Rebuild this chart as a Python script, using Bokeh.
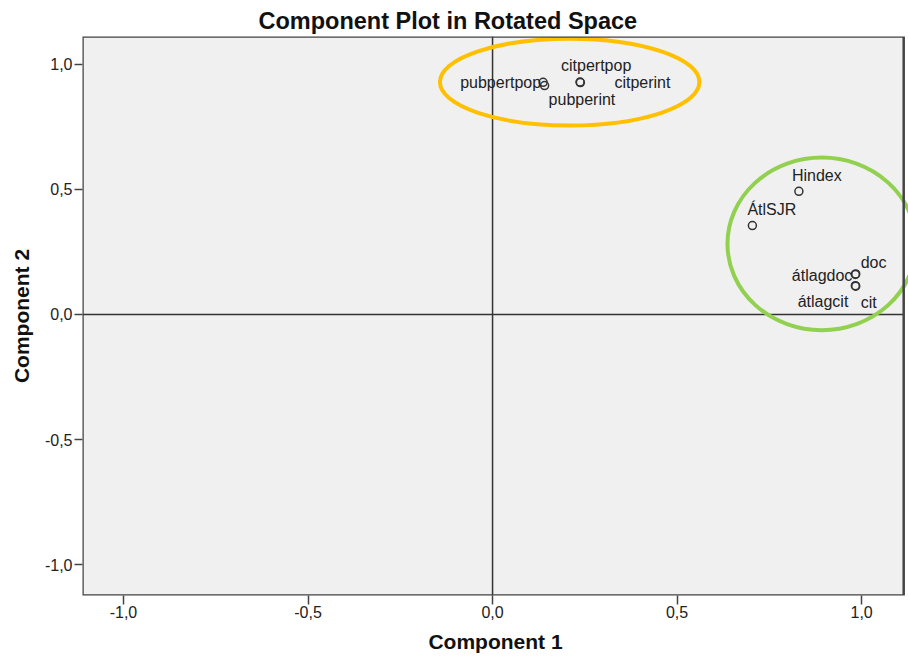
from bokeh.plotting import figure
from bokeh.models import Span, CustomJSTickFormatter, FixedTicker, ColumnDataSource, Range1d, BoxAnnotation
from bokeh.core.properties import value
from bokeh.embed import file_html
from bokeh.resources import INLINE

# ---- data (component loadings) ----
labels = ["pubpertpop", "pubperint", "citpertpop", "citperint", "Hindex",
          "ÁtlSJR", "doc", "átlagdoc", "cit", "átlagcit"]
component1 = [0.137, 0.141, 0.237, 0.238, 0.830, 0.704, 0.984, 0.983, 0.984, 0.983]
component2 = [0.927, 0.914, 0.928, 0.926, 0.492, 0.355, 0.162, 0.160, 0.113, 0.115]

tick_values = [-1.0, -0.5, 0.0, 0.5, 1.0]

# highlight ellipses (centre, width, height in component units)
hl_x = [0.209, 0.892]
hl_y = [0.928, 0.282]
hl_w = [0.703, 0.511]
hl_h = [0.347, 0.689]
hl_color = ["#FFC000", "#92D050"]

# ---- label placement style: (align, dx px, dy px; dy positive = down) ----
label_style = {
    "pubpertpop": ("right", -2, 0),
    "pubperint": ("left", 4, 14),
    "citpertpop": ("left", -19, -17),
    "citperint": ("left", 34, 0),
    "Hindex": ("left", -7, -16),
    "ÁtlSJR": ("left", -5, -16),
    "doc": ("left", 5, -11),
    "átlagdoc": ("right", -3, 1),
    "cit": ("left", 5, 16),
    "átlagcit": ("right", -7, 16),
}

FONT = "Liberation Sans"
X_START, X_END, X_BORDER = -1.111, 1.127, 1.114
Y_START, Y_END = -1.122, 1.110

p = figure(width=908, height=657, output_backend="svg", toolbar_location=None,
           x_range=Range1d(X_START, X_END), y_range=Range1d(Y_START, Y_END),
           min_border_left=82, min_border_right=0, min_border_top=36, min_border_bottom=62,
           title="Component Plot in Rotated Space")

p.background_fill_color = "#F0F0F0"
p.border_fill_color = "white"
p.outline_line_color = None
p.grid.visible = False

p.title.text_font = FONT
p.title.text_font_size = "23.5px"
p.title.text_font_style = "bold"
p.title.text_color = "#111111"
p.title.align = "left"
p.title.offset = 176
p.title.standoff = 5

fmt = CustomJSTickFormatter(code="return tick.toFixed(1).replace('.', ',');")
for ax in (p.xaxis[0], p.yaxis[0]):
    ax.ticker = FixedTicker(ticks=tick_values)
    ax.formatter = fmt
    ax.major_label_text_font = FONT
    ax.major_label_text_font_size = "16px"
    ax.major_label_text_color = "#222222"
    ax.axis_label_text_font = FONT
    ax.axis_label_text_font_size = "21px"
    ax.axis_label_text_font_style = "bold"
    ax.axis_label_text_color = "#111111"
    ax.axis_line_color = None
    ax.major_tick_line_color = "#444444"
    ax.major_tick_line_width = 1.5
    ax.major_tick_in = 0
    ax.minor_tick_line_color = None

p.xaxis.axis_label = "Component 1"
p.xaxis.major_tick_out = 9
p.xaxis.major_label_standoff = 1
p.xaxis.axis_label_standoff = 9

p.yaxis.axis_label = "Component 2"
p.yaxis.major_tick_out = 8
p.yaxis.major_label_standoff = 2
p.yaxis.axis_label_standoff = 9

# zero reference lines
p.add_layout(Span(location=0, dimension="height", line_color="#333333", line_width=1.5, level="underlay"))
p.add_layout(Span(location=0, dimension="width", line_color="#333333", line_width=1.5, level="underlay"))

# white area right of the plot border (the frame runs on so the ellipse can overflow it)
p.add_layout(BoxAnnotation(left=X_BORDER, fill_color="white", fill_alpha=1.0,
                           line_color=None, level="underlay"))

# points
src = ColumnDataSource(dict(
    x=component1, y=component2, name=labels,
    align=[label_style[n][0] for n in labels],
    dx=[label_style[n][1] for n in labels],
    dy=[label_style[n][2] for n in labels],
))
p.scatter("x", "y", source=src, marker="circle", size=8, fill_color=None,
          line_color="#333333", line_width=1.5)
p.text("x", "y", text="name", source=src, x_offset="dx", y_offset="dy",
       text_align="align", text_baseline="middle",
       text_font=value(FONT), text_font_size="16px", text_color="#222222")

# plot border
p.add_layout(BoxAnnotation(left=X_START, right=X_BORDER, top=Y_END, bottom=Y_START,
                           fill_color=None, fill_alpha=0,
                           line_color="#444444", line_alpha=1.0, line_width=2.5))

# highlight ellipses
p.ellipse(x=hl_x, y=hl_y, width=hl_w, height=hl_h, fill_color=None,
          line_color=hl_color, line_width=4)

open("out.html", "w").write(file_html(p, INLINE))
